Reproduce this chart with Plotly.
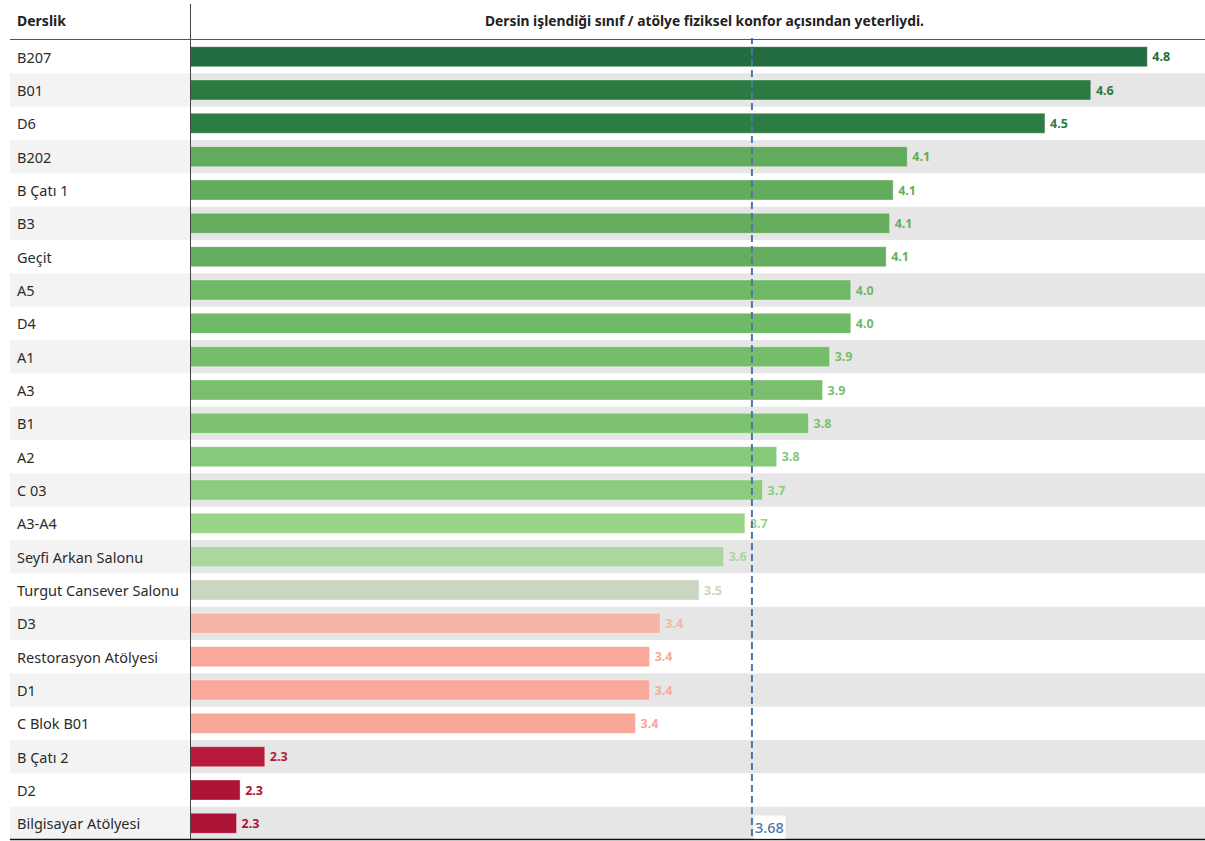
import plotly.graph_objects as go

W, H = 1205, 841

categories = ["B207", "B01", "D6", "B202", "B Çatı 1", "B3", "Geçit", "A5", "D4", "A1",
              "A3", "B1", "A2", "C 03", "A3-A4", "Seyfi Arkan Salonu", "Turgut Cansever Salonu",
              "D3", "Restorasyon Atölyesi", "D1", "C Blok B01", "B Çatı 2", "D2", "Bilgisayar Atölyesi"]
values = [4.80, 4.64, 4.51, 4.12, 4.08, 4.07, 4.06, 3.96, 3.96, 3.90,
          3.88, 3.84, 3.75, 3.71, 3.66, 3.60, 3.53,
          3.42, 3.39, 3.39, 3.35, 2.30, 2.23, 2.22]
value_labels = ["4.8", "4.6", "4.5", "4.1", "4.1", "4.1", "4.1", "4.0", "4.0", "3.9",
                "3.9", "3.8", "3.8", "3.7", "3.7", "3.6", "3.5",
                "3.4", "3.4", "3.4", "3.4", "2.3", "2.3", "2.3"]
colors = ["#236c3f", "#2b7a41", "#2d7c43", "#62ab5c", "#63ac5d", "#64ad5e", "#65ae5f",
          "#6fb866", "#70b967", "#76bd6b", "#79bf6e", "#7cc271", "#86c97a", "#8ccc7f",
          "#97d488", "#a9d79d", "#cad6bf", "#f4b6a5", "#f9a99a", "#f9a99a", "#f9a797",
          "#b81a3b", "#ad1237", "#ad1237"]
average = 3.68
header_left = "Derslik"
title = "Dersin işlendiği sınıf / atölye fiziksel konfor açısından yeterliydi."

FONT = "Noto Sans"

def px(x):
    return x / W

def py(y):
    return 1 - y / H

fig = go.Figure()
fig.add_trace(go.Bar(
    x=values, y=categories, orientation="h",
    marker=dict(color=colors, line=dict(color="rgba(255,255,255,0.35)", width=1)),
    width=0.6,
    text=["\u2009" + t for t in value_labels], textposition="outside", cliponaxis=False,
    textfont=dict(family=FONT, size=12.5, color=colors, weight="bold"),
    hoverinfo="skip",
))

shapes = []
n = len(categories)
for i in range(n):
    if i % 2 == 1:
        shapes.append(dict(type="rect", xref="paper", yref="y", x0=px(10), x1=px(190),
                           y0=i - 0.5, y1=i + 0.5, fillcolor="#f3f3f3", line_width=0, layer="below"))
        shapes.append(dict(type="rect", xref="paper", yref="y", x0=px(190), x1=1,
                           y0=i - 0.5, y1=i + 0.5, fillcolor="#e6e6e6", line_width=0, layer="below"))

# reference line
shapes.append(dict(type="line", xref="x", yref="paper", x0=average, x1=average,
                   y0=py(836), y1=py(38), line=dict(color="#4e76aa", width=2, dash="7px,4px")))
# structural lines
shapes.append(dict(type="line", xref="paper", yref="paper", x0=px(190.5), x1=px(190.5),
                   y0=py(4), y1=py(840), line=dict(color="#444444", width=1)))
shapes.append(dict(type="line", xref="paper", yref="paper", x0=px(10), x1=1,
                   y0=py(39.5), y1=py(39.5), line=dict(color="#555555", width=1)))
shapes.append(dict(type="line", xref="paper", yref="paper", x0=px(10), x1=1,
                   y0=py(839.5), y1=py(839.5), line=dict(color="#111111", width=1.5)))

annotations = []
for i, c in enumerate(categories):
    annotations.append(dict(x=px(15), y=c, xref="paper", yref="y", text=c, showarrow=False,
                            xanchor="left", yanchor="middle",
                            font=dict(family=FONT, size=14.5, color="#2b2b2b")))
annotations.append(dict(x=px(15), y=py(21), xref="paper", yref="paper", text="<b>%s</b>" % header_left,
                        showarrow=False, xanchor="left", yanchor="middle",
                        font=dict(family=FONT, size=14, color="#222222")))
annotations.append(dict(x=px(704), y=py(21), xref="paper", yref="paper", text="<b>%s</b>" % title,
                        showarrow=False, xanchor="center", yanchor="middle",
                        font=dict(family=FONT, size=13.8, color="#222222")))
annotations.append(dict(x=average, y=py(827), xref="x", yref="paper", text="%.2f" % average,
                        showarrow=False, xanchor="left", yanchor="middle", xshift=1,
                        bgcolor="white", borderpad=1,
                        font=dict(family=FONT, size=14.5, color="#4e76aa", weight=500)))

fig.update_layout(
    width=W, height=H,
    margin=dict(l=0, r=0, t=0, b=0, pad=0),
    paper_bgcolor="white", plot_bgcolor="rgba(0,0,0,0)",
    showlegend=False, bargap=0.4,
    shapes=shapes, annotations=annotations,
    xaxis=dict(domain=[px(191), 1], range=[2.091, 2.091 + (W - 191) / 353.0],
               showgrid=False, zeroline=False, showticklabels=False, showline=False, fixedrange=True),
    yaxis=dict(domain=[py(840), py(40)], categoryorder="array", categoryarray=categories,
               range=[n - 0.5, -0.5], showgrid=False, zeroline=False, showticklabels=False,
               showline=False, fixedrange=True),
)

fig.write_html("out.html", config={"displayModeBar": False},
               post_script="document.body.style.margin='0';document.body.style.overflow='hidden';")
